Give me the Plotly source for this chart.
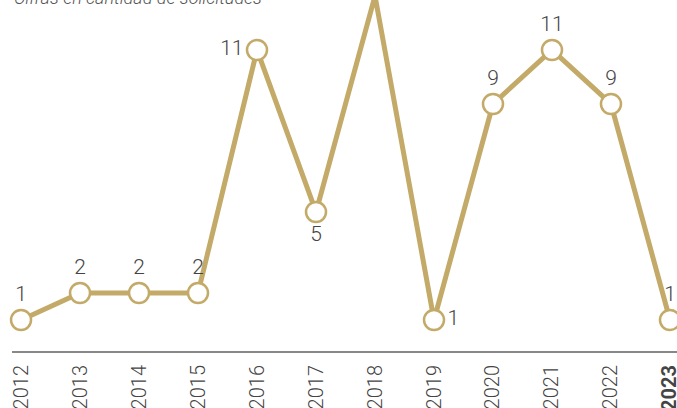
import plotly.graph_objects as go

years = [2012, 2013, 2014, 2015, 2016, 2017, 2018, 2019, 2020, 2021, 2022, 2023]
values = [1, 2, 2, 2, 11, 5, 13, 1, 9, 11, 9, 1]
tick_labels = ["2012", "2013", "2014", "2015", "2016", "2017", "2018", "2019",
               "2020", "2021", "2022", "<b>2023</b>"]
subtitle = "Cifras en cantidad de solicitudes"

label_pos = ["top center", "top center", "top center", "top center", "middle left",
             "bottom center", "middle right", "middle right", "top center",
             "top center", "top center", "top center"]

GOLD = "#C4AA68"
FONT = "Roboto, sans-serif"

fig = go.Figure()
fig.add_trace(go.Scatter(
    x=years, y=values, mode="lines+markers+text",
    text=[str(v) for v in values], textposition=label_pos,
    textfont=dict(family=FONT, size=21, color="#444444", weight=300),
    line=dict(color=GOLD, width=5),
    marker=dict(size=20, color="white", line=dict(color=GOLD, width=2.5)),
    cliponaxis=False, hoverinfo="skip",
))

fig.update_layout(
    width=677, height=408,
    margin=dict(l=12, r=0, t=0, b=57, autoexpand=False),
    paper_bgcolor="white", plot_bgcolor="white",
    showlegend=False,
    xaxis=dict(range=[2011.847, 2023.119], tickmode="array", tickvals=years,
               ticktext=tick_labels, tickangle=-90, showgrid=False, zeroline=False,
               showline=True, linecolor="#888888", linewidth=2, ticks="",
               automargin=False, ticklabeloverflow="allow", ticklabelstandoff=4,
               tickfont=dict(family=FONT, size=20, color="#444444", weight=300)),
    yaxis=dict(range=[-0.148, 12.85], visible=False, showgrid=False, zeroline=False,
               automargin=False),
    annotations=[dict(text="<i>" + subtitle + "</i>", xref="paper", yref="paper",
                      x=0, y=1, xanchor="left", yanchor="middle", yshift=3,
                      showarrow=False,
                      font=dict(family="Roboto, sans-serif", size=18, color="#555555",
                                weight=300))],
)

fig.write_html("out.html", config={"displayModeBar": False},
               post_script="document.body.style.margin='0';document.body.style.overflow='hidden';")
